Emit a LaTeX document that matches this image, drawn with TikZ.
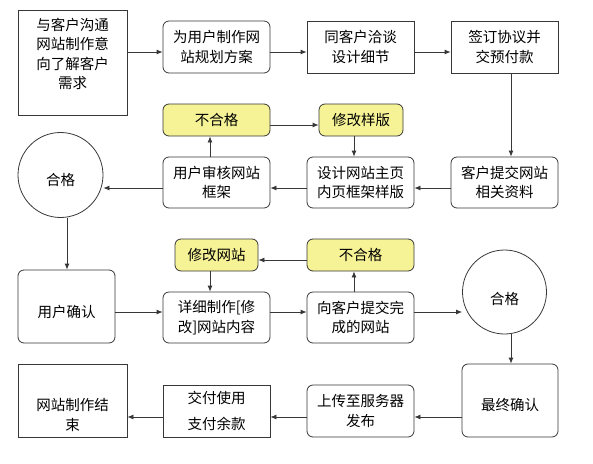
\documentclass[tikz,border=0pt]{standalone}
\usepackage{fontspec}
\setmainfont{Noto Sans CJK SC}
\usetikzlibrary{arrows.meta}
\definecolor{hint}{RGB}{246,242,150}
\definecolor{edge}{RGB}{55,55,55}

\begin{document}
\begin{tikzpicture}[x=1pt,y=-1pt,
    font=\fontsize{14.5}{19.5}\selectfont,
    box/.style={draw=edge, line width=0.8pt, minimum width=107pt, minimum height=52pt, align=center, inner sep=0pt},
    rbox/.style={box, rounded corners=6pt},
    note/.style={rbox, fill=hint, minimum height=32pt},
    pass/.style={circle, draw=edge, line width=0.8pt, minimum size=85pt, inner sep=0pt},
    arr/.style={draw=edge, line width=0.8pt, -{Latex[length=6pt,width=5pt]}}]
    % fix the canvas
    \useasboundingbox (0,0) rectangle (593,463);

    % draw first row
    \node[box, minimum width=109pt, minimum height=105pt, label={[align=center,yshift=8.5pt]center:与客户沟通\\网站制作意\\向了解客户\\需求}] (need) at (72.5,62.5) {};
    \node[rbox] (plan) at (216.5,47) {为用户制作网\\站规划方案};
    \node[box] (talk) at (360.5,47) {同客户洽谈\\设计细节};
    \node[box] (sign) at (504.5,47) {签订协议并\\交预付款};

    % draw second row
    \node[note] (fail1) at (216.5,120) {不合格};
    \node[note, minimum width=84pt] (redo1) at (361,120) {修改样版};
    \node[rbox, minimum height=51pt] (review) at (216.5,182.5) {用户审核网站\\框架};
    \node[rbox, minimum height=51pt] (design) at (360.5,182.5) {设计网站主页\\内页框架样版};
    \node[rbox, minimum height=51pt] (data) at (504.5,182.5) {客户提交网站\\相关资料};
    \node[pass, label={[yshift=-5pt]center:合格}] (ok1) at (60.5,175) {};

    % draw third row
    \node[rbox, minimum width=97pt, minimum height=73pt, label={[yshift=-5.5pt]center:用户确认}] (confirm) at (66.5,306.5) {};
    \node[note, minimum width=83pt] (redo2) at (216.5,255) {修改网站};
    \node[note] (fail2) at (360.5,255) {不合格};
    \node[rbox, minimum height=51pt] (build) at (216.5,317.5) {详细制作[修\\改]网站内容};
    \node[rbox, minimum height=51pt] (submit) at (360.5,317.5) {向客户提交完\\成的网站};
    \node[pass, minimum size=84pt, label={[yshift=-7pt]center:合格}] (ok2) at (504.5,292) {};

    % draw fourth row
    \node[rbox, minimum width=96pt, minimum height=73pt, label={[yshift=-4.5pt]center:最终确认}] (final) at (510,400.5) {};
    \node[rbox] (upload) at (360.5,411) {上传至服务器\\发布};
    \node[box] (pay) at (216.5,411) {交付使用\\[6pt]支付余款};
    \node[box, minimum width=109pt, minimum height=73pt, label={[align=center,yshift=-14.5pt]center:网站制作结\\束}] (done) at (72.5,400.5) {};

    % arrow lanes
    \coordinate (r1) at (0,52);
    \coordinate (r2a) at (0,125);
    \coordinate (r2) at (0,188);
    \coordinate (r3a) at (0,260);
    \coordinate (r3) at (0,312);
    \coordinate (r4) at (0,417);
    \coordinate (c1) at (67,0);
    \coordinate (c2) at (210,0);
    \coordinate (c3) at (354,0);
    \coordinate (c4) at (511,0);

    % draw arrows
    \draw[arr] (need.east |- r1) -- (plan.west |- r1);
    \draw[arr] (plan.east |- r1) -- (talk.west |- r1);
    \draw[arr] (talk.east |- r1) -- (sign.west |- r1);
    \draw[arr] (sign.south -| c4) -- (data.north -| c4);
    \draw[arr] (data.west |- r2) -- (design.east |- r2);
    \draw[arr] (design.west |- r2) -- (review.east |- r2);
    \draw[arr] (review.west |- r2) -- (ok1.east |- r2);
    \draw[arr] (review.north -| c2) -- (fail1.south -| c2);
    \draw[arr] (fail1.east |- r2a) -- (redo1.west |- r2a);
    \draw[arr] (redo1.south -| c3) -- (design.north -| c3);
    \draw[arr] (ok1.south -| c1) -- (confirm.north -| c1);
    \draw[arr] (confirm.east |- r3) -- (build.west |- r3);
    \draw[arr] (build.east |- r3) -- (submit.west |- r3);
    \draw[arr] (submit.east |- r3) -- (ok2.west |- r3);
    \draw[arr] (submit.north -| c3) -- (fail2.south -| c3);
    \draw[arr] (fail2.west |- r3a) -- (redo2.east |- r3a);
    \draw[arr] (redo2.south -| c2) -- (build.north -| c2);
    \draw[arr] (ok2.south -| c4) -- (final.north -| c4);
    \draw[arr] (final.west |- r4) -- (upload.east |- r4);
    \draw[arr] (upload.west |- r4) -- (pay.east |- r4);
    \draw[arr] (pay.west |- r4) -- (done.east |- r4);
\end{tikzpicture}
\end{document}
